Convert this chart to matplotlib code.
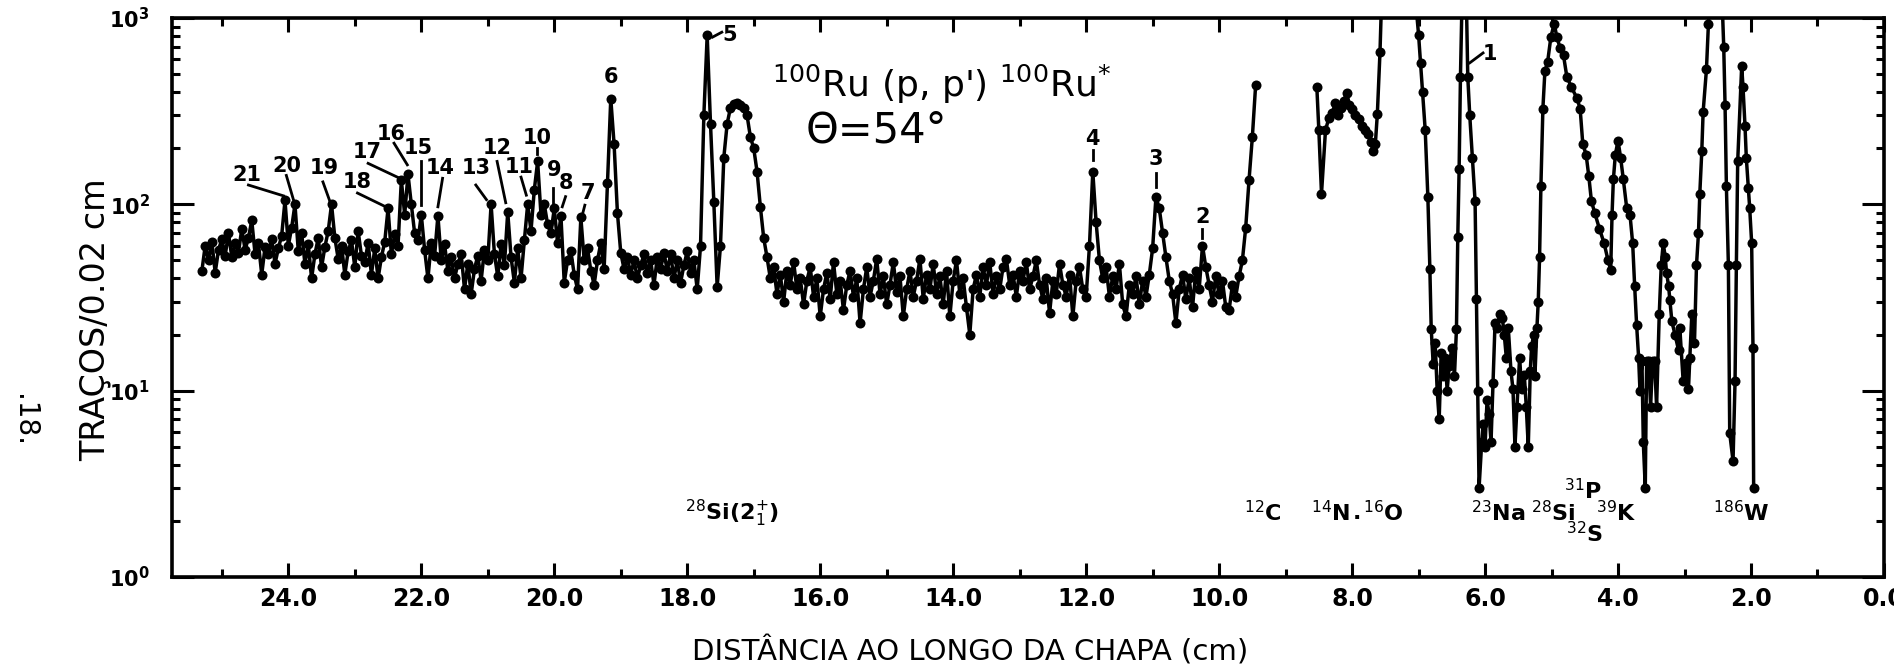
import numpy as np
import matplotlib
matplotlib.use("Agg")
from matplotlib import pyplot as plt
from matplotlib.ticker import FixedLocator, LogLocator, NullFormatter

# counts per channel, left part of the plate: one value every 0.05 cm
# starting at 25.30 cm and ending at 9.45 cm (one row = 1 cm)
seg1_start = 25.30
seg1_step = 0.05
seg1_counts = [
    44, 60, 50, 63, 43, 57, 65, 53, 70, 52, 62, 55, 74, 57, 66, 82, 54, 62, 42, 59,
    54, 65, 48, 58, 68, 105, 60, 75, 100, 56, 70, 48, 61, 40, 54, 66, 46, 59, 72, 100,
    66, 51, 60, 42, 56, 64, 46, 72, 53, 49, 62, 42, 58, 40, 52, 63, 95, 54, 69, 60,
    135, 88, 145, 100, 70, 64, 88, 57, 40, 62, 53, 87, 50, 61, 44, 52, 40, 48, 54, 35,
    48, 33, 45, 53, 39, 57, 50, 100, 54, 41, 61, 47, 91, 52, 38, 58, 40, 64, 100, 72,
    120, 170, 88, 100, 78, 70, 95, 62, 87, 38, 50, 56, 42, 35, 85, 50, 58, 44, 37, 50,
    62, 45, 130, 370, 210, 90, 55, 45, 52, 42, 50, 40, 47, 54, 43, 50, 37, 52, 45, 55,
    44, 54, 40, 50, 38, 47, 56, 43, 50, 35, 60, 300, 810, 270, 103, 36, 60, 178, 270, 330,
    345, 350, 340, 330, 300, 230, 200, 150, 97, 66, 52, 40, 46, 33, 42, 30, 44, 37, 49, 35,
    40, 29, 39, 46, 32, 40, 25, 35, 43, 31, 49, 33, 39, 27, 37, 44, 32, 40, 23, 35,
    46, 32, 39, 51, 33, 41, 29, 37, 49, 34, 41, 25, 35, 44, 32, 39, 51, 31, 42, 35,
    48, 33, 41, 29, 44, 25, 39, 50, 33, 40, 28, 20, 35, 42, 32, 46, 37, 49, 33, 41,
    35, 46, 51, 37, 42, 32, 44, 39, 49, 35, 41, 50, 37, 31, 40, 26, 39, 33, 48, 37,
    32, 42, 25, 39, 46, 35, 32, 60, 150, 80, 50, 40, 46, 32, 41, 35, 48, 29, 25, 37,
    33, 41, 29, 39, 32, 42, 58, 110, 95, 70, 52, 39, 33, 23, 35, 42, 31, 40, 28, 44,
    35, 60, 46, 37, 30, 41, 33, 39, 28, 27, 37, 32, 41, 50, 75, 135, 230, 440,
]

# right part of the plate (after the gap), positions in cm
seg2_pos = [
    8.53, 8.50, 8.46, 8.40, 8.35, 8.30, 8.25, 8.21, 8.17, 8.12, 8.08, 8.04, 8.00,
    7.95, 7.90, 7.85, 7.80, 7.76, 7.72, 7.68, 7.65, 7.62, 7.58, 7.55, 7.45, 7.30,
    7.15, 7.05, 7.00, 6.97, 6.94, 6.90, 6.86, 6.83, 6.81, 6.78, 6.75, 6.72, 6.69,
    6.66, 6.63, 6.60, 6.57, 6.54, 6.50, 6.46, 6.43, 6.41, 6.39, 6.37, 6.34, 6.31,
    6.28, 6.26, 6.23, 6.19, 6.15, 6.13, 6.11, 6.09,
    6.05, 6.03, 6.00, 5.97, 5.94, 5.91, 5.88, 5.85, 5.82, 5.78, 5.74, 5.71, 5.68,
    5.65, 5.61, 5.58, 5.55, 5.52, 5.48, 5.45, 5.41, 5.38, 5.35, 5.32, 5.30, 5.27,
    5.25, 5.22, 5.20, 5.18, 5.16, 5.13, 5.10, 5.06, 5.01, 4.96, 4.92, 4.87, 4.82,
    4.77, 4.70, 4.62, 4.57, 4.53, 4.48, 4.44, 4.40, 4.35, 4.28, 4.21, 4.15, 4.11,
    4.09, 4.07, 4.04, 4.00, 3.96, 3.92, 3.87, 3.82, 3.78, 3.75, 3.72, 3.69, 3.67,
    3.64, 3.62, 3.59, 3.57, 3.54, 3.51, 3.48, 3.45, 3.42, 3.38, 3.35, 3.32, 3.29,
    3.27, 3.24, 3.22, 3.19, 3.14, 3.09, 3.07, 3.02, 2.98, 2.94, 2.92, 2.89, 2.85,
    2.82, 2.79, 2.77, 2.74, 2.72, 2.67, 2.64, 2.60, 2.52, 2.45, 2.41, 2.39, 2.37,
    2.34, 2.32, 2.27, 2.24, 2.22, 2.20, 2.14, 2.12, 2.09, 2.07, 2.04, 2.02, 1.99,
    1.97, 1.96,
]
seg2_counts = [
    425, 250, 114, 250, 290, 310, 349, 300, 330, 360, 398, 340, 327,
    300, 287, 263, 250, 240, 215, 193, 211, 306, 660, 1500, 3000, 4000,
    3000, 1300, 815, 575, 400, 250, 109, 45, 21.5, 13.9, 18, 10, 7.0,
    16, 12, 15, 10, 13.5, 17, 12, 21.5, 67, 155, 485, 1600, 1800,
    1200, 485, 300, 177, 104, 31, 10, 3.0,
    5.3, 6.6, 5.0, 8.9, 7.5, 5.3, 11, 23, 21.6, 25.7, 24.6, 19.8, 15,
    21.6, 12.7, 10.2, 5.0, 8.2, 15, 10.2, 12.2, 8.2, 5.0, 12.7, 17.3, 19.8,
    12, 21.6, 30, 52, 125, 327, 518, 578, 790, 935, 790, 690, 630,
    485, 425, 373, 327, 211, 185, 142, 104, 90, 74, 62, 50, 44.5,
    88, 136, 185, 220, 177, 136, 96, 88, 62, 36.5, 22.4, 15, 10,
    14.5, 5.3, 3.0, 14.5, 14.5, 8.2, 14.5, 14.5, 8.2, 25.7, 47, 62, 52,
    43, 36.5, 30.6, 23.5, 19.8, 16.5, 21.6, 11.2, 14, 10.2, 15, 25.7, 18,
    47, 70, 114, 193, 313, 530, 935, 2000, 3000, 1800, 700, 340, 125,
    47, 5.9, 4.2, 11.2, 47, 170, 553, 425, 263, 177, 122, 96, 62,
    17, 3.0,
]

# numbered peaks: label, text position, leader start, leader end
peak_labels = [
    ("21", 24.62, 144, 24.60, 127, 24.07, 111),
    ("20", 24.02, 161, 24.03, 143, 23.92, 105),
    ("19", 23.46, 156, 23.48, 132, 23.38, 105),
    ("18", 22.96, 132, 22.96, 115, 22.56, 98),
    ("17", 22.81, 192, 22.80, 166, 22.36, 140),
    ("16", 22.46, 240, 22.41, 213, 22.21, 163),
    ("15", 22.04, 200, 22.01, 170, 22.01, 99),
    ("14", 21.71, 156, 21.68, 138, 21.75, 97),
    ("13", 21.18, 156, 21.18, 127, 21.02, 106),
    ("12", 20.86, 200, 20.86, 170, 20.73, 102),
    ("11", 20.53, 158, 20.50, 140, 20.42, 112),
    ("10", 20.26, 226, 20.26, 200, 20.26, 186),
    ("9", 20.00, 153, 20.02, 122, 20.02, 101),
    ("8", 19.82, 130, 19.83, 110, 19.88, 97),
    ("7", 19.50, 115, 19.54, 99, 19.57, 90),
    ("6", 19.15, 480, None, None, None, None),
    ("5", 17.36, 810, 17.62, 790, 17.48, 840),
    ("4", 11.90, 225, 11.90, 195, 11.90, 172),
    ("3", 10.95, 175, 10.95, 147, 10.95, 124),
    ("2", 10.25, 85, 10.25, 74, 10.25, 66),
    ("1", 5.92, 640, 6.23, 575, 6.03, 650),
]

# contaminant lines marked below the spectrum
element_labels = [
    (r"$^{28}$Si(2$_1^{+}$)", 17.33, 2.2),
    (r"$^{12}$C", 9.35, 2.2),
    (r"$^{14}$N", 8.33, 2.2),
    (".", 7.92, 2.2),
    (r"$^{16}$O", 7.53, 2.2),
    (r"$^{23}$Na", 5.80, 2.2),
    (r"$^{28}$Si", 4.97, 2.2),
    (r"$^{31}$P", 4.52, 2.9),
    (r"$^{32}$S", 4.50, 1.7),
    (r"$^{39}$K", 4.02, 2.2),
    (r"$^{186}$W", 2.14, 2.2),
]

x_major = [24, 22, 20, 18, 16, 14, 12, 10, 8, 6, 4, 2, 0]
x_minor = [25, 23, 21, 19, 17, 15, 13, 11, 9, 7, 5, 3, 1]
y_major = [1, 10, 100, 1000]

seg1_pos = seg1_start - seg1_step * np.arange(len(seg1_counts))

fig = plt.figure(figsize=(18.94, 6.70), dpi=100)
ax = fig.add_axes([0.0908, 0.139, 0.9039, 0.834])

style = dict(color="black", linestyle="-", linewidth=2.5, marker="o",
             markersize=7.2, markeredgewidth=0)
ax.plot(seg1_pos, seg1_counts, **style)
ax.plot(seg2_pos, seg2_counts, **style)

ax.set_yscale("log")
ax.set_xlim(25.75, 0.0)
ax.set_ylim(1, 1000)

for lab, tx, ty, x0, y0, x1, y1 in peak_labels:
    ax.text(tx, ty, lab, fontsize=15, fontweight="bold",
            ha="center", va="center")
    if x0 is not None:
        ax.plot([x0, x1], [y0, y1], color="black", linewidth=2.0)

for lab, tx, ty in element_labels:
    ax.text(tx, ty, lab, fontsize=16, fontweight="bold",
            ha="center", va="center")

ax.text(16.73, 375, r"$^{100}$Ru (p, p') $^{100}$Ru$^{*}$", fontsize=26,
        ha="left", va="baseline")
ax.text(16.22, 215, "\u0398=54\u00b0", fontsize=30, ha="left", va="baseline")

# axes frame and ticks
for sp in ax.spines.values():
    sp.set_linewidth(2.6)
ax.xaxis.set_major_locator(FixedLocator(x_major))
ax.xaxis.set_minor_locator(FixedLocator(x_minor))
ax.set_xticklabels(["%.1f" % v for v in x_major])
ax.yaxis.set_major_locator(FixedLocator(y_major))
ax.yaxis.set_minor_locator(LogLocator(base=10, subs=range(2, 10)))
ax.yaxis.set_minor_formatter(NullFormatter())
ax.set_yticklabels([r"$\mathbf{10^{%d}}$" % int(np.log10(v)) for v in y_major])

ax.tick_params(which="both", direction="in", top=True, right=True, width=2.2)
ax.tick_params(axis="x", which="major", length=10, pad=7, labelsize=17)
ax.tick_params(axis="x", which="minor", length=6)
ax.tick_params(axis="y", which="major", length=16, pad=16, labelsize=15)
ax.tick_params(axis="y", which="minor", length=6)
for lbl in ax.get_xticklabels():
    lbl.set_fontweight("bold")

ax.set_xlabel("DISTÂNCIA AO LONGO DA CHAPA (cm)", fontsize=21)
ax.xaxis.label.set_va("center")
ax.xaxis.set_label_coords(0.466, -0.134)
ax.set_ylabel("TRAÇOS/0.02 cm", fontsize=24)
ax.yaxis.label.set_va("center")
ax.yaxis.set_label_coords(-0.045, 0.46)

fig.text(24 / 1894, 1 - 420 / 670, ".18.", rotation=-90, fontsize=20,
         ha="center", va="center")

fig.savefig("out.png", dpi=100)
